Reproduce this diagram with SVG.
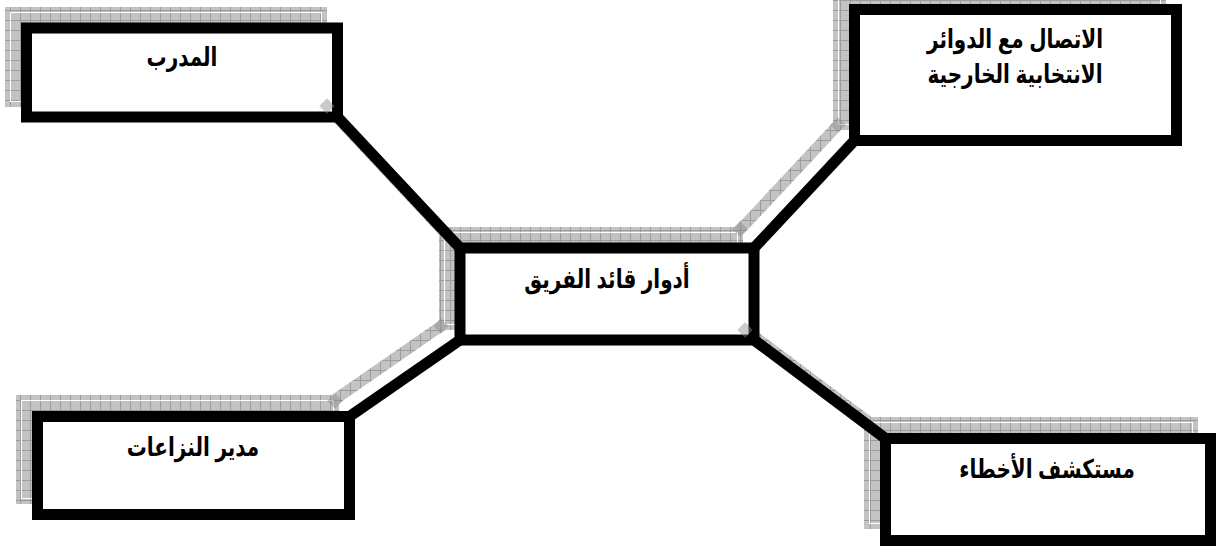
<svg xmlns="http://www.w3.org/2000/svg" width="1221" height="549" viewBox="0 0 1221 549">
<defs>
<pattern id="grid" width="10" height="10" patternUnits="userSpaceOnUse"><rect width="10" height="10" fill="#c3c3c3"/><path d="M0 0.5H10M0.5 0V10" stroke="#9c9c9c" stroke-width="1"/></pattern>
</defs>
<style>
.shd{fill:url(#grid)}
.shl{fill:none;stroke:#fff;stroke-width:1}
.sline{stroke:url(#grid);stroke-width:11;fill:none}
.dia{fill:#8a8a8a;fill-opacity:0.45}
.conn{stroke:#000;stroke-width:11;fill:none}
.box{fill:#fff;stroke:#000;stroke-width:11}
.lbl{font-family:"Liberation Sans","DejaVu Sans",Arial,sans-serif;font-weight:bold;font-size:20px;fill:#000;text-anchor:middle}
</style>
<g id="shadows">
<rect class="shd" x="5" y="7" width="322" height="100"/>
<rect class="shl" x="10.5" y="12.5" width="311" height="89"/>
<rect class="shd" x="833" y="-12" width="333" height="142"/>
<rect class="shl" x="838.5" y="-6.5" width="322" height="131"/>
<rect class="shd" x="439" y="227" width="304" height="103"/>
<rect class="shl" x="444.5" y="232.5" width="293" height="92"/>
<rect class="shd" x="16" y="395" width="323" height="109"/>
<rect class="shl" x="21.5" y="400.5" width="312" height="98"/>
<rect class="shd" x="864" y="417" width="334" height="112"/>
<rect class="shl" x="869.5" y="422.5" width="323" height="101"/>
<line class="sline" x1="321.5" y1="101" x2="444" y2="232"/>
<line class="sline" x1="838.5" y1="124.5" x2="738" y2="232"/>
<line class="sline" x1="444" y1="324" x2="333.5" y2="400.5"/>
<line class="sline" x1="738" y1="324" x2="869.5" y2="422.5"/>
</g>
<g id="connectors">
<line class="conn" x1="337.5" y1="117" x2="460" y2="248"/>
<line class="conn" x1="854.5" y1="140.5" x2="754" y2="248"/>
<line class="conn" x1="460" y1="340" x2="349.5" y2="416.5"/>
<line class="conn" x1="754" y1="340" x2="885.5" y2="438.5"/>
</g>
<g id="node-coach">
<rect class="box" x="26.5" y="28" width="311" height="89"/>
<text class="lbl" transform="translate(182 66) scale(1 1.3)">المدرب</text>
</g>
<g id="node-external">
<rect class="box" x="854.5" y="9.5" width="322" height="131"/>
<text class="lbl" transform="translate(1015 48) scale(1 1.3)">الاتصال مع الدوائر</text>
<text class="lbl" transform="translate(1015 83) scale(1 1.3)">الانتخابية الخارجية</text>
</g>
<g id="node-center">
<rect class="box" x="460" y="248" width="294" height="92"/>
<text class="lbl" transform="translate(607 288) scale(1 1.3)">أدوار قائد الفريق</text>
</g>
<g id="node-conflict">
<rect class="box" x="37.5" y="416.5" width="312" height="98"/>
<text class="lbl" transform="translate(193 456) scale(1 1.3)">مدير النزاعات</text>
</g>
<g id="node-errors">
<rect class="box" x="885.5" y="438.5" width="325" height="102"/>
<text class="lbl" transform="translate(1047 478) scale(1 1.3)">مستكشف الأخطاء</text>
</g>
<g id="shadow-caps">
<rect class="dia" x="-5.5" y="-5.5" width="11" height="11" transform="translate(327 106) rotate(45)"/>
<rect class="dia" x="-5.5" y="-5.5" width="11" height="11" transform="translate(838 125) rotate(45)"/>
<rect class="dia" x="-5.5" y="-5.5" width="11" height="11" transform="translate(740 229) rotate(45)"/>
<rect class="dia" x="-5.5" y="-5.5" width="11" height="11" transform="translate(441 326) rotate(45)"/>
<rect class="dia" x="-5.5" y="-5.5" width="11" height="11" transform="translate(745 330) rotate(45)"/>
<rect class="dia" x="-5.5" y="-5.5" width="11" height="11" transform="translate(335 401) rotate(45)"/>
</g>
</svg>
